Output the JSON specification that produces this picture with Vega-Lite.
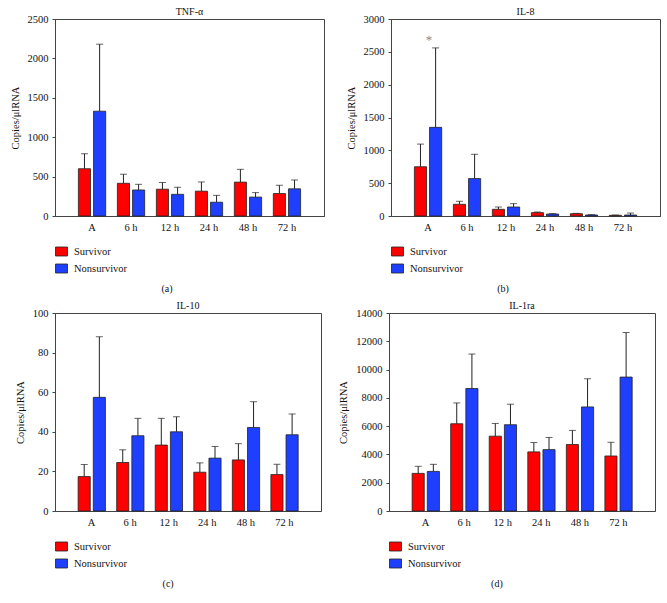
{
  "$schema": "https://vega.github.io/schema/vega-lite/v6.json",
  "background": "white",
  "padding": {"left": 9, "top": 6, "right": 4, "bottom": 5},
  "config": {
    "font": "Liberation Serif",
    "view": {"stroke": "#444", "strokeWidth": 1},
    "axis": {
      "labelFont": "Liberation Serif", "labelFontSize": 10.5, "labelColor": "#111", "labelOverlap": false,
      "titleFont": "Liberation Serif", "titleFontSize": 10.5, "titleFontWeight": "normal", "titleColor": "#111",
      "domainColor": "#444", "tickColor": "#444", "tickSize": 3, "grid": false
    },
    "axisY": {"labelPadding": 4, "titlePadding": 7},
    "legend": {
      "labelFont": "Liberation Serif", "labelFontSize": 10.5, "labelColor": "#111"
    },
    "title": {"font": "Liberation Serif", "fontSize": 10, "fontWeight": "normal", "color": "#111"},
    "concat": {"spacing": 20}
  },
  "datasets": {
    "bars": [
      {"panel": "a", "time": "A", "group": "Survivor", "value": 600, "upper": 790},
      {"panel": "a", "time": "A", "group": "Nonsurvivor", "value": 1330, "upper": 2180},
      {"panel": "a", "time": "6 h", "group": "Survivor", "value": 415, "upper": 530},
      {"panel": "a", "time": "6 h", "group": "Nonsurvivor", "value": 330, "upper": 402},
      {"panel": "a", "time": "12 h", "group": "Survivor", "value": 340, "upper": 425},
      {"panel": "a", "time": "12 h", "group": "Nonsurvivor", "value": 275, "upper": 365},
      {"panel": "a", "time": "24 h", "group": "Survivor", "value": 315, "upper": 432},
      {"panel": "a", "time": "24 h", "group": "Nonsurvivor", "value": 175, "upper": 262},
      {"panel": "a", "time": "48 h", "group": "Survivor", "value": 430, "upper": 592},
      {"panel": "a", "time": "48 h", "group": "Nonsurvivor", "value": 240, "upper": 297},
      {"panel": "a", "time": "72 h", "group": "Survivor", "value": 285, "upper": 390},
      {"panel": "a", "time": "72 h", "group": "Nonsurvivor", "value": 345, "upper": 457},

      {"panel": "b", "time": "A", "group": "Survivor", "value": 750, "upper": 1095},
      {"panel": "b", "time": "A", "group": "Nonsurvivor", "value": 1350, "upper": 2560},
      {"panel": "b", "time": "6 h", "group": "Survivor", "value": 178, "upper": 224},
      {"panel": "b", "time": "6 h", "group": "Nonsurvivor", "value": 570, "upper": 940},
      {"panel": "b", "time": "12 h", "group": "Survivor", "value": 102, "upper": 137},
      {"panel": "b", "time": "12 h", "group": "Nonsurvivor", "value": 137, "upper": 188},
      {"panel": "b", "time": "24 h", "group": "Survivor", "value": 51, "upper": 61},
      {"panel": "b", "time": "24 h", "group": "Nonsurvivor", "value": 30, "upper": 36},
      {"panel": "b", "time": "48 h", "group": "Survivor", "value": 35, "upper": 40},
      {"panel": "b", "time": "48 h", "group": "Nonsurvivor", "value": 15, "upper": 20},
      {"panel": "b", "time": "72 h", "group": "Survivor", "value": 10, "upper": 15},
      {"panel": "b", "time": "72 h", "group": "Nonsurvivor", "value": 15, "upper": 45},

      {"panel": "c", "time": "A", "group": "Survivor", "value": 17.4, "upper": 23.5},
      {"panel": "c", "time": "A", "group": "Nonsurvivor", "value": 57.4, "upper": 88},
      {"panel": "c", "time": "6 h", "group": "Survivor", "value": 24.5, "upper": 30.9},
      {"panel": "c", "time": "6 h", "group": "Nonsurvivor", "value": 38, "upper": 46.8},
      {"panel": "c", "time": "12 h", "group": "Survivor", "value": 33.3, "upper": 46.8},
      {"panel": "c", "time": "12 h", "group": "Nonsurvivor", "value": 40, "upper": 47.6},
      {"panel": "c", "time": "24 h", "group": "Survivor", "value": 19.6, "upper": 24.3},
      {"panel": "c", "time": "24 h", "group": "Nonsurvivor", "value": 26.7, "upper": 32.6},
      {"panel": "c", "time": "48 h", "group": "Survivor", "value": 25.8, "upper": 34},
      {"panel": "c", "time": "48 h", "group": "Nonsurvivor", "value": 42.2, "upper": 55.2},
      {"panel": "c", "time": "72 h", "group": "Survivor", "value": 18.4, "upper": 23.6},
      {"panel": "c", "time": "72 h", "group": "Nonsurvivor", "value": 38.5, "upper": 49},

      {"panel": "d", "time": "A", "group": "Survivor", "value": 2660, "upper": 3160},
      {"panel": "d", "time": "A", "group": "Nonsurvivor", "value": 2800, "upper": 3300},
      {"panel": "d", "time": "6 h", "group": "Survivor", "value": 6170, "upper": 7640},
      {"panel": "d", "time": "6 h", "group": "Nonsurvivor", "value": 8660, "upper": 11100},
      {"panel": "d", "time": "12 h", "group": "Survivor", "value": 5290, "upper": 6190},
      {"panel": "d", "time": "12 h", "group": "Nonsurvivor", "value": 6100, "upper": 7550},
      {"panel": "d", "time": "24 h", "group": "Survivor", "value": 4180, "upper": 4840},
      {"panel": "d", "time": "24 h", "group": "Nonsurvivor", "value": 4340, "upper": 5200},
      {"panel": "d", "time": "48 h", "group": "Survivor", "value": 4700, "upper": 5700},
      {"panel": "d", "time": "48 h", "group": "Nonsurvivor", "value": 7360, "upper": 9350},
      {"panel": "d", "time": "72 h", "group": "Survivor", "value": 3890, "upper": 4860},
      {"panel": "d", "time": "72 h", "group": "Nonsurvivor", "value": 9470, "upper": 12620}
    ],
    "notes": [
      {"panel": "b", "time": "A", "label": "*", "value": 2680}
    ]
  },
  "concat": [
    {
      "hconcat": [
        {
          "title": {"text": "(a)", "orient": "bottom", "anchor": "middle", "offset": 9},
          "vconcat": [{
            "title": {"text": "TNF-α", "offset": -3},
            "width": 269, "height": 197,
            "data": {"name": "bars"},
            "transform": [{"filter": "datum.panel == 'a'"}],
            "encoding": {
              "x": {"field": "time", "type": "nominal", "sort": ["A", "6 h", "12 h", "24 h", "48 h", "72 h"],
                    "scale": {"paddingInner": 0.3, "paddingOuter": 0.6},
                    "axis": {"title": null, "labelAngle": 0, "ticks": false, "labelPadding": 6}},
              "xOffset": {"field": "group", "type": "nominal", "sort": ["Survivor", "Nonsurvivor"], "scale": {"paddingInner": 0.2}}
            },
            "layer": [
              {"mark": {"type": "bar", "stroke": "#222", "strokeWidth": 0.8},
               "encoding": {
                 "y": {"field": "value", "type": "quantitative", "scale": {"domain": [0, 2500], "nice": false},
                       "axis": {"title": "Copies/μlRNA", "values": [0, 500, 1000, 1500, 2000, 2500], "format": "d"}},
                 "color": {"field": "group", "type": "nominal", "sort": ["Survivor", "Nonsurvivor"],
                           "scale": {"domain": ["Survivor", "Nonsurvivor"], "range": ["#ff0000", "#1f3fff"]},
                           "legend": {"orient": "bottom", "direction": "vertical", "title": null, "offset": 12,
                                      "symbolType": "M-1,-0.75L1,-0.75L1,0.75L-1,0.75Z", "symbolSize": 144,
                                      "symbolStrokeColor": "#222", "symbolStrokeWidth": 0.8, "symbolOpacity": 1, "rowPadding": 4, "labelOffset": 6}}
               }},
              {"mark": {"type": "rule", "color": "#222", "strokeWidth": 1},
               "encoding": {"y": {"field": "value", "type": "quantitative", "axis": {"title": "Copies/μlRNA", "values": [0, 500, 1000, 1500, 2000, 2500], "format": "d"}}, "y2": {"field": "upper"}}},
              {"mark": {"type": "tick", "color": "#222", "size": 7, "thickness": 1},
               "encoding": {"y": {"field": "upper", "type": "quantitative", "axis": {"title": "Copies/μlRNA", "values": [0, 500, 1000, 1500, 2000, 2500], "format": "d"}}}}
            ]
          }]
        },
        {
          "title": {"text": "(b)", "orient": "bottom", "anchor": "middle", "offset": 9},
          "vconcat": [{
            "title": {"text": "IL-8", "offset": -3},
            "width": 269, "height": 197,
            "encoding": {
              "x": {"field": "time", "type": "nominal", "sort": ["A", "6 h", "12 h", "24 h", "48 h", "72 h"],
                    "scale": {"paddingInner": 0.3, "paddingOuter": 0.6},
                    "axis": {"title": null, "labelAngle": 0, "ticks": false, "labelPadding": 6}}
            },
            "layer": [
              {"data": {"name": "bars"},
               "transform": [{"filter": "datum.panel == 'b'"}],
               "encoding": {"xOffset": {"field": "group", "type": "nominal", "sort": ["Survivor", "Nonsurvivor"], "scale": {"paddingInner": 0.2}}},
               "layer": [
                {"mark": {"type": "bar", "stroke": "#222", "strokeWidth": 0.8},
                 "encoding": {
                   "y": {"field": "value", "type": "quantitative", "scale": {"domain": [0, 3000], "nice": false},
                         "axis": {"title": "Copies/μlRNA", "values": [0, 500, 1000, 1500, 2000, 2500, 3000], "format": "d"}},
                   "color": {"field": "group", "type": "nominal", "sort": ["Survivor", "Nonsurvivor"],
                             "scale": {"domain": ["Survivor", "Nonsurvivor"], "range": ["#ff0000", "#1f3fff"]},
                             "legend": {"orient": "bottom", "direction": "vertical", "title": null, "offset": 12,
                                        "symbolType": "M-1,-0.75L1,-0.75L1,0.75L-1,0.75Z", "symbolSize": 144,
                                        "symbolStrokeColor": "#222", "symbolStrokeWidth": 0.8, "symbolOpacity": 1, "rowPadding": 4, "labelOffset": 6}}
                 }},
                {"mark": {"type": "rule", "color": "#222", "strokeWidth": 1},
                 "encoding": {"y": {"field": "value", "type": "quantitative", "axis": {"title": "Copies/μlRNA", "values": [0, 500, 1000, 1500, 2000, 2500, 3000], "format": "d"}}, "y2": {"field": "upper"}}},
                {"mark": {"type": "tick", "color": "#222", "size": 7, "thickness": 1},
                 "encoding": {"y": {"field": "upper", "type": "quantitative", "axis": {"title": "Copies/μlRNA", "values": [0, 500, 1000, 1500, 2000, 2500, 3000], "format": "d"}}}}
               ]},
              {"data": {"name": "notes"},
               "mark": {"type": "text", "color": "#888", "fontSize": 13, "dx": 1},
               "encoding": {"y": {"field": "value", "type": "quantitative", "axis": {"title": "Copies/μlRNA", "values": [0, 500, 1000, 1500, 2000, 2500, 3000], "format": "d"}}, "text": {"field": "label"}}}
            ]
          }]
        }
      ],
      "resolve": {"scale": {"color": "independent"}, "legend": {"color": "independent"}}
    },
    {
      "hconcat": [
        {
          "title": {"text": "(c)", "orient": "bottom", "anchor": "middle", "offset": 9},
          "vconcat": [{
            "title": {"text": "IL-10", "offset": -3},
            "width": 266, "height": 198,
            "data": {"name": "bars"},
            "transform": [{"filter": "datum.panel == 'c'"}],
            "encoding": {
              "x": {"field": "time", "type": "nominal", "sort": ["A", "6 h", "12 h", "24 h", "48 h", "72 h"],
                    "scale": {"paddingInner": 0.3, "paddingOuter": 0.6},
                    "axis": {"title": null, "labelAngle": 0, "ticks": false, "labelPadding": 6}},
              "xOffset": {"field": "group", "type": "nominal", "sort": ["Survivor", "Nonsurvivor"], "scale": {"paddingInner": 0.2}}
            },
            "layer": [
              {"mark": {"type": "bar", "stroke": "#222", "strokeWidth": 0.8},
               "encoding": {
                 "y": {"field": "value", "type": "quantitative", "scale": {"domain": [0, 100], "nice": false},
                       "axis": {"title": "Copies/μlRNA", "values": [0, 20, 40, 60, 80, 100], "format": "d"}},
                 "color": {"field": "group", "type": "nominal", "sort": ["Survivor", "Nonsurvivor"],
                           "scale": {"domain": ["Survivor", "Nonsurvivor"], "range": ["#ff0000", "#1f3fff"]},
                           "legend": {"orient": "bottom", "direction": "vertical", "title": null, "offset": 12,
                                      "symbolType": "M-1,-0.75L1,-0.75L1,0.75L-1,0.75Z", "symbolSize": 144,
                                      "symbolStrokeColor": "#222", "symbolStrokeWidth": 0.8, "symbolOpacity": 1, "rowPadding": 4, "labelOffset": 6}}
               }},
              {"mark": {"type": "rule", "color": "#222", "strokeWidth": 1},
               "encoding": {"y": {"field": "value", "type": "quantitative", "axis": {"title": "Copies/μlRNA", "values": [0, 20, 40, 60, 80, 100], "format": "d"}}, "y2": {"field": "upper"}}},
              {"mark": {"type": "tick", "color": "#222", "size": 7, "thickness": 1},
               "encoding": {"y": {"field": "upper", "type": "quantitative", "axis": {"title": "Copies/μlRNA", "values": [0, 20, 40, 60, 80, 100], "format": "d"}}}}
            ]
          }]
        },
        {
          "title": {"text": "(d)", "orient": "bottom", "anchor": "middle", "offset": 9},
          "vconcat": [{
            "title": {"text": "IL-1ra", "offset": -3},
            "width": 266, "height": 198,
            "data": {"name": "bars"},
            "transform": [{"filter": "datum.panel == 'd'"}],
            "encoding": {
              "x": {"field": "time", "type": "nominal", "sort": ["A", "6 h", "12 h", "24 h", "48 h", "72 h"],
                    "scale": {"paddingInner": 0.3, "paddingOuter": 0.6},
                    "axis": {"title": null, "labelAngle": 0, "ticks": false, "labelPadding": 6}},
              "xOffset": {"field": "group", "type": "nominal", "sort": ["Survivor", "Nonsurvivor"], "scale": {"paddingInner": 0.2}}
            },
            "layer": [
              {"mark": {"type": "bar", "stroke": "#222", "strokeWidth": 0.8},
               "encoding": {
                 "y": {"field": "value", "type": "quantitative", "scale": {"domain": [0, 14000], "nice": false},
                       "axis": {"title": "Copies/μlRNA", "values": [0, 2000, 4000, 6000, 8000, 10000, 12000, 14000], "format": "d"}},
                 "color": {"field": "group", "type": "nominal", "sort": ["Survivor", "Nonsurvivor"],
                           "scale": {"domain": ["Survivor", "Nonsurvivor"], "range": ["#ff0000", "#1f3fff"]},
                           "legend": {"orient": "bottom", "direction": "vertical", "title": null, "offset": 12,
                                      "symbolType": "M-1,-0.75L1,-0.75L1,0.75L-1,0.75Z", "symbolSize": 144,
                                      "symbolStrokeColor": "#222", "symbolStrokeWidth": 0.8, "symbolOpacity": 1, "rowPadding": 4, "labelOffset": 6}}
               }},
              {"mark": {"type": "rule", "color": "#222", "strokeWidth": 1},
               "encoding": {"y": {"field": "value", "type": "quantitative", "axis": {"title": "Copies/μlRNA", "values": [0, 2000, 4000, 6000, 8000, 10000, 12000, 14000], "format": "d"}}, "y2": {"field": "upper"}}},
              {"mark": {"type": "tick", "color": "#222", "size": 7, "thickness": 1},
               "encoding": {"y": {"field": "upper", "type": "quantitative", "axis": {"title": "Copies/μlRNA", "values": [0, 2000, 4000, 6000, 8000, 10000, 12000, 14000], "format": "d"}}}}
            ]
          }]
        }
      ],
      "spacing": 16,
      "resolve": {"scale": {"color": "independent"}, "legend": {"color": "independent"}}
    }
  ],
  "columns": 1,
  "align": "none",
  "spacing": 6,
  "resolve": {"scale": {"color": "independent"}, "legend": {"color": "independent"}}
}
